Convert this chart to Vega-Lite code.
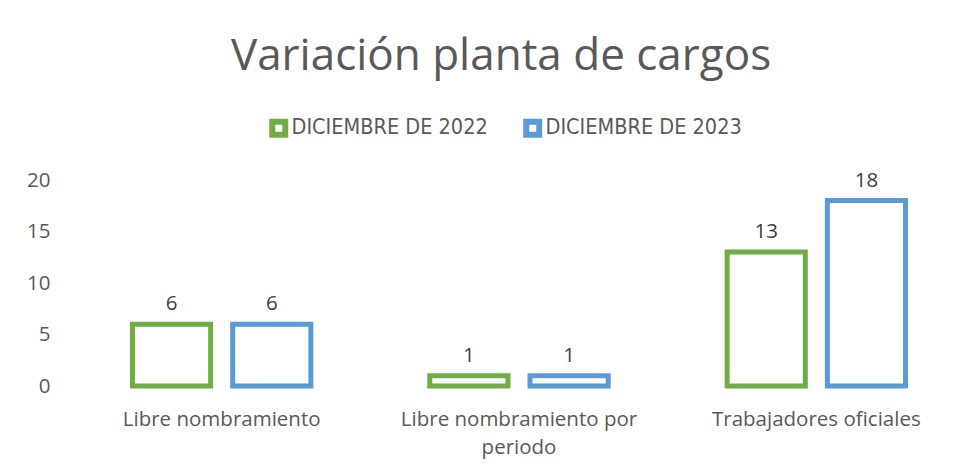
{
  "$schema": "https://vega.github.io/schema/vega-lite/v6.json",
  "autosize": "none",
  "width": 892,
  "height": 206,
  "padding": {"left": 73, "top": 180, "right": 15, "bottom": 86},
  "background": "white",
  "title": {
    "text": "Variación planta de cargos",
    "font": "Open Sans",
    "fontSize": 44,
    "fontWeight": "normal",
    "color": "#595959",
    "anchor": "middle",
    "dx": -18,
    "offset": 100,
    "dy": 62
  },
  "data": {
    "values": [
      {"categoria": "Libre nombramiento", "periodo": "DICIEMBRE DE 2022", "valor": 6},
      {"categoria": "Libre nombramiento", "periodo": "DICIEMBRE DE 2023", "valor": 6},
      {"categoria": "Libre nombramiento por periodo", "periodo": "DICIEMBRE DE 2022", "valor": 1},
      {"categoria": "Libre nombramiento por periodo", "periodo": "DICIEMBRE DE 2023", "valor": 1},
      {"categoria": "Trabajadores oficiales", "periodo": "DICIEMBRE DE 2022", "valor": 13},
      {"categoria": "Trabajadores oficiales", "periodo": "DICIEMBRE DE 2023", "valor": 18}
    ]
  },
  "encoding": {
    "x": {
      "field": "categoria",
      "type": "nominal",
      "sort": null,
      "scale": {"paddingInner": 0.4, "paddingOuter": 0.2},
      "axis": {
        "title": null,
        "labelAngle": 0,
        "domain": false,
        "ticks": false,
        "labelPadding": 23,
        "labelFont": "Open Sans",
        "labelFontSize": 20.5,
        "labelColor": "#595959",
        "labelLineHeight": 28,
        "labelLimit": 400,
        "labelExpr": "datum.label == 'Libre nombramiento por periodo' ? ['Libre nombramiento por', 'periodo'] : datum.label"
      }
    },
    "xOffset": {
      "field": "periodo",
      "type": "nominal",
      "scale": {"paddingInner": 0.22, "paddingOuter": 0}
    },
    "y": {
      "field": "valor",
      "type": "quantitative",
      "scale": {"domain": [0, 20]},
      "axis": {
        "title": null,
        "values": [0, 5, 10, 15, 20],
        "grid": false,
        "domain": false,
        "ticks": false,
        "labelPadding": 23,
        "labelFont": "Open Sans",
        "labelFontSize": 20.5,
        "labelColor": "#595959"
      }
    }
  },
  "layer": [
    {
      "mark": {"type": "bar", "fill": "white", "strokeWidth": 5},
      "encoding": {
        "stroke": {
          "field": "periodo",
          "type": "nominal",
          "scale": {"range": ["#70AD47", "#5B9BD5"]},
          "legend": {
            "title": null,
            "orient": "none",
            "direction": "horizontal",
            "legendX": 195,
            "legendY": -63,
            "symbolType": "square",
            "symbolSize": 169,
            "symbolStrokeWidth": 6,
            "symbolFillColor": "white",
            "labelFont": "DejaVu Sans Condensed",
            "labelFontSize": 21.5,
            "labelColor": "#595959",
            "labelOffset": 2,
            "labelLimit": 400,
            "columnPadding": 26
          }
        }
      }
    },
    {
      "mark": {"type": "text", "baseline": "bottom", "dy": -10, "font": "Open Sans", "fontSize": 20.5, "color": "#404040"},
      "encoding": {
        "text": {"field": "valor", "type": "quantitative"}
      }
    }
  ],
  "config": {"view": {"stroke": null}}
}
